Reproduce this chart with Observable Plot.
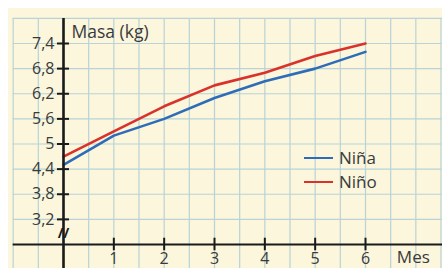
<!DOCTYPE html>
<html>
<head>
<meta charset="utf-8">
<script src="https://cdn.jsdelivr.net/npm/d3@7"></script>
<script src="https://cdn.jsdelivr.net/npm/@observablehq/plot@0.6"></script>
<style>
  html, body { margin: 0; padding: 0; background: #ffffff; }
  #wrap { position: relative; width: 442px; height: 268px; }
  svg { display: block; }
  .leg { position: absolute; left: 304px; font: 17px "Open Sans", sans-serif; color: #3a3a3a; display: flex; align-items: center; line-height: 20px; }
  .leg span.sw { display: inline-block; width: 29px; height: 2.5px; margin-right: 6px; }
</style>
</head>
<body>
<div id="wrap"></div>
<script>
const months = [0, 1, 2, 3, 4, 5, 6];
const nina = [4.5, 5.2, 5.6, 6.1, 6.5, 6.8, 7.2];
const nino = [4.7, 5.3, 5.9, 6.4, 6.7, 7.1, 7.4];
const seriesNames = ["Niña", "Niño"];
const seriesColors = ["#2f6cb8", "#d8322b"];
const yTicks = [3.2, 3.8, 4.4, 5.0, 5.6, 6.2, 6.8, 7.4];
const xTicks = [1, 2, 3, 4, 5, 6];
const xGrid = d3.range(-1, 7.51, 0.5);
const yGrid = d3.range(2.0, 8.01, 0.6);

const data = [];
months.forEach((m, i) => {
  data.push({mes: m, masa: nina[i], serie: seriesNames[0]});
  data.push({mes: m, masa: nino[i], serie: seriesNames[1]});
});

const fmt = v => (Number.isInteger(v) ? String(v) : v.toFixed(1).replace(".", ","));
const grid = "#b9d3d6";
const ink = "#3a3a3a";

const chart = Plot.plot({
  width: 442,
  height: 268,
  margin: 0,
  x: {domain: [0, 6], range: [63, 365], axis: null},
  y: {domain: [2.6, 7.4], range: [244, 43], axis: null},
  color: {domain: seriesNames, range: seriesColors},
  style: {
    background: "linear-gradient(to bottom, #fff 8px, transparent 8px), linear-gradient(to right, #fff 8px, #fbf6dc 8px)",
    fontFamily: "'Open Sans', sans-serif",
    fontSize: "15px",
    overflow: "visible"
  },
  marks: [
    Plot.ruleX(xGrid, {y1: 2.0, y2: 8.0, stroke: grid, strokeWidth: 1.2}),
    Plot.ruleY(yGrid, {x1: -1, x2: 7.6, stroke: grid, strokeWidth: 1.2}),
    Plot.line(data, {x: "mes", y: "masa", stroke: "serie", z: "serie", strokeWidth: 2.6}),
    Plot.ruleY([2.6], {x1: -1, x2: 7.6, stroke: "#1a1a1a", strokeWidth: 2.2}),
    Plot.ruleX([0], {y1: 1.9, y2: 8.0, stroke: "#1a1a1a", strokeWidth: 2.6}),
    Plot.ruleY(yTicks, {x1: -0.12, x2: 0.12, stroke: "#1a1a1a", strokeWidth: 2}),
    Plot.ruleX(xTicks, {y1: 2.6 - 0.15, y2: 2.6 + 0.15, stroke: "#1a1a1a", strokeWidth: 2}),
    Plot.text(yTicks, {x: 0, y: d => d, text: fmt, textAnchor: "end", dx: -9, fill: ink, fontSize: 16}),
    Plot.text(xTicks, {x: d => d, y: 2.6, text: fmt, dy: 14, fill: ink, fontSize: 16}),
    Plot.text(["Mes"], {x: 6.95, y: 2.6, text: d => d, dy: 13, fill: ink, fontSize: 17}),
    Plot.text(["Masa (kg)"], {x: 0, y: 7.4, text: d => d, textAnchor: "start", dx: 8, dy: -11, fill: ink, fontSize: 17.5}),
    Plot.text(["//"], {x: 0, y: 2.86, text: d => d, fill: "#1a1a1a", fontSize: 14, fontWeight: "bold"})
  ]
});

const wrap = document.getElementById("wrap");
wrap.appendChild(chart);
seriesNames.forEach((name, i) => {
  const el = document.createElement("div");
  el.className = "leg";
  el.style.top = (148 + i * 24) + "px";
  el.innerHTML = `<span class="sw" style="background:${seriesColors[i]}"></span>${name}`;
  wrap.appendChild(el);
});
</script>
</body>
</html>
